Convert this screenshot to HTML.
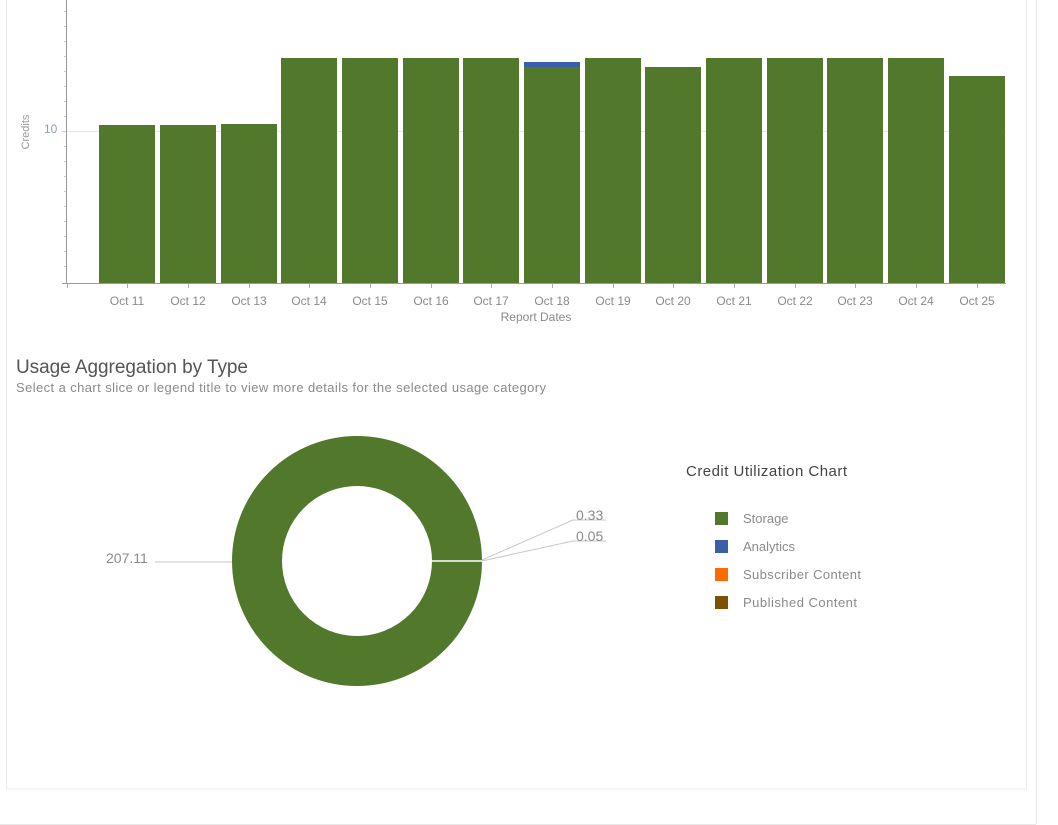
<!DOCTYPE html>
<html><head><meta charset="utf-8"><style>
body{margin:0;width:1058px;height:825px;background:#fff;overflow:hidden;font-family:"Liberation Sans",sans-serif}
</style></head><body>
<svg width="1058" height="825" xmlns="http://www.w3.org/2000/svg" style="position:absolute;left:0;top:0">
<rect x="6.5" y="-2" width="1020" height="791" fill="#fff" stroke="#ececec"/>
<line x1="1036.5" y1="0" x2="1036.5" y2="824" stroke="#e8e8e8"/>
<line x1="0" y1="824.5" x2="1036" y2="824.5" stroke="#e8e8e8"/>
<line x1="66" y1="131.5" x2="1006" y2="131.5" stroke="#e6e6e6"/>
<g fill="#52782c">
<rect x="99" y="125" width="56" height="158"/>
<rect x="160" y="125" width="56" height="158"/>
<rect x="221" y="124" width="56" height="159"/>
<rect x="281" y="58" width="56" height="225"/>
<rect x="342" y="58" width="56" height="225"/>
<rect x="403" y="58" width="56" height="225"/>
<rect x="463" y="58" width="56" height="225"/>
<rect x="524" y="67" width="56" height="216"/>
<rect x="585" y="58" width="56" height="225"/>
<rect x="645" y="67" width="56" height="216"/>
<rect x="706" y="58" width="56" height="225"/>
<rect x="767" y="58" width="56" height="225"/>
<rect x="827" y="58" width="56" height="225"/>
<rect x="888" y="58" width="56" height="225"/>
<rect x="949" y="76" width="56" height="207"/>
</g>
<rect x="524" y="62" width="56" height="5" fill="#3a5fa8"/>
<line x1="66.5" y1="0" x2="66.5" y2="284" stroke="#999"/>
<line x1="62" y1="283.5" x2="1006" y2="283.5" stroke="#999"/>
<g stroke="#ccc">
<line x1="64" y1="11.5" x2="66" y2="11.5"/><line x1="64" y1="26.5" x2="66" y2="26.5"/><line x1="64" y1="41.5" x2="66" y2="41.5"/><line x1="64" y1="56.5" x2="66" y2="56.5"/><line x1="64" y1="71.5" x2="66" y2="71.5"/><line x1="64" y1="86.5" x2="66" y2="86.5"/><line x1="64" y1="101.5" x2="66" y2="101.5"/><line x1="64" y1="116.5" x2="66" y2="116.5"/><line x1="62" y1="131.5" x2="66" y2="131.5"/><line x1="64" y1="146.5" x2="66" y2="146.5"/><line x1="64" y1="161.5" x2="66" y2="161.5"/><line x1="64" y1="176.5" x2="66" y2="176.5"/><line x1="64" y1="191.5" x2="66" y2="191.5"/><line x1="64" y1="206.5" x2="66" y2="206.5"/><line x1="64" y1="221.5" x2="66" y2="221.5"/><line x1="64" y1="236.5" x2="66" y2="236.5"/><line x1="64" y1="251.5" x2="66" y2="251.5"/><line x1="64" y1="266.5" x2="66" y2="266.5"/>
</g>
<g stroke="#aaa">
<line x1="67.5" y1="284" x2="67.5" y2="288"/>
<line x1="127.5" y1="284" x2="127.5" y2="288"/><line x1="188.5" y1="284" x2="188.5" y2="288"/><line x1="249.5" y1="284" x2="249.5" y2="288"/><line x1="309.5" y1="284" x2="309.5" y2="288"/><line x1="370.5" y1="284" x2="370.5" y2="288"/><line x1="431.5" y1="284" x2="431.5" y2="288"/><line x1="491.5" y1="284" x2="491.5" y2="288"/><line x1="552.5" y1="284" x2="552.5" y2="288"/><line x1="613.5" y1="284" x2="613.5" y2="288"/><line x1="673.5" y1="284" x2="673.5" y2="288"/><line x1="734.5" y1="284" x2="734.5" y2="288"/><line x1="795.5" y1="284" x2="795.5" y2="288"/><line x1="855.5" y1="284" x2="855.5" y2="288"/><line x1="916.5" y1="284" x2="916.5" y2="288"/><line x1="977.5" y1="284" x2="977.5" y2="288"/>
</g>
<g font-size="12" fill="#8a8a8a" text-anchor="middle">
<text x="127" y="305">Oct 11</text><text x="188" y="305">Oct 12</text><text x="249" y="305">Oct 13</text><text x="309" y="305">Oct 14</text><text x="370" y="305">Oct 15</text><text x="431" y="305">Oct 16</text><text x="491" y="305">Oct 17</text><text x="552" y="305">Oct 18</text><text x="613" y="305">Oct 19</text><text x="673" y="305">Oct 20</text><text x="734" y="305">Oct 21</text><text x="795" y="305">Oct 22</text><text x="855" y="305">Oct 23</text><text x="916" y="305">Oct 24</text><text x="977" y="305">Oct 25</text>
<text x="536" y="321">Report Dates</text>
</g>
<text x="44" y="133" font-size="12" fill="#8aa0b8">10</text>
<text transform="translate(29,132) rotate(-90)" font-size="11" fill="#999" text-anchor="middle">Credits</text>
<text x="16" y="373" font-size="19" fill="#555" textLength="232">Usage Aggregation by Type</text>
<text x="16" y="392" font-size="13" fill="#8a8a8a" textLength="530">Select a chart slice or legend title to view more details for the selected usage category</text>
<circle cx="357" cy="561" r="100" fill="none" stroke="#52782c" stroke-width="50"/>
<line x1="432" y1="561" x2="482" y2="561" stroke="#fff" stroke-width="1.5"/>
<g stroke="#c8c8c8" fill="none">
<polyline points="155,562 232,562"/>
<polyline points="482,560 573,520 606,520"/>
<polyline points="482,561 573,541 606,541"/>
</g>
<g font-size="14" fill="#8a8a8a">
<text x="106" y="563">207.11</text>
<text x="576" y="520">0.33</text>
<text x="576" y="541">0.05</text>
</g>
<text x="686" y="476" font-size="15" fill="#444" textLength="161">Credit Utilization Chart</text>
<rect x="715" y="512" width="13" height="13" fill="#52782c"/>
<rect x="715" y="540" width="13" height="13" fill="#3a5fa8"/>
<rect x="715" y="568" width="13" height="13" fill="#ff6a00"/>
<rect x="715" y="596" width="13" height="13" fill="#7a5200"/>
<g font-size="13" fill="#8a8a8a">
<text x="743" y="523">Storage</text>
<text x="743" y="551">Analytics</text>
<text x="743" y="579" textLength="118">Subscriber Content</text>
<text x="743" y="607" textLength="114">Published Content</text>
</g>
</svg>
</body></html>
